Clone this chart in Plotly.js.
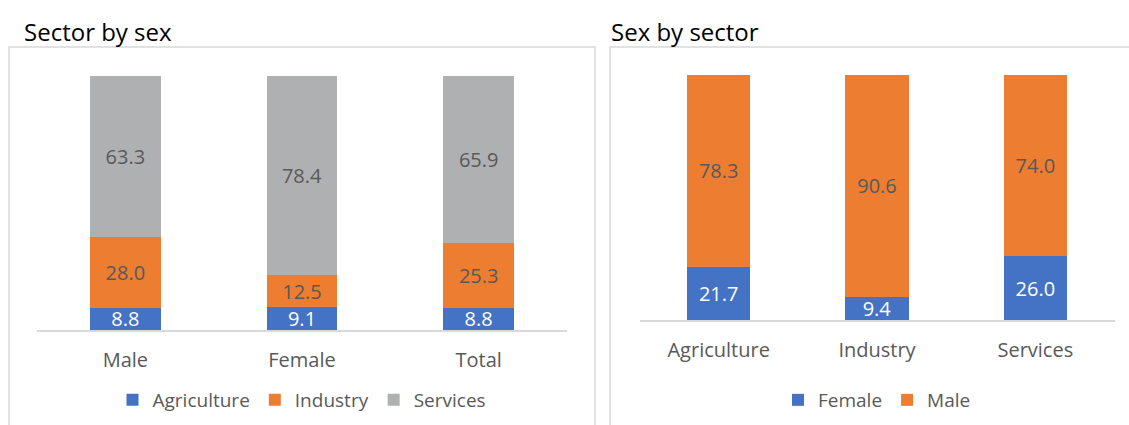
<!DOCTYPE html>
<html>
<head>
<meta charset="utf-8">
<script src="https://cdn.plot.ly/plotly-3.0.1.min.js"></script>
<style>html,body{margin:0;padding:0;background:#fff;}#chart{width:1129px;height:425px;}</style>
</head>
<body>
<div id="chart"></div>
<script>
// ---- Data ----
const sexCategories = ["Male", "Female", "Total"];
const agriculture = [8.8, 9.1, 8.8];
const industry = [28.0, 12.5, 25.3];
const services = [63.3, 78.4, 65.9];

const sectorCategories = ["Agriculture", "Industry", "Services"];
const female = [21.7, 9.4, 26.0];
const male = [78.3, 90.6, 74.0];

const titleLeft = "Sector by sex";
const titleRight = "Sex by sector";

// ---- Styling ----
const W = 1129, H = 425;
const FONT = "Open Sans";
const FS = 20;
const BLUE = "#4472C4", ORANGE = "#ED7D31", GREY = "#AFB0B2";
const LABEL = "#595959";
const px = v => v / W;
const py = v => 1 - v / H;

function barTrace(name, x, y, color, textColor, xa, ya, legend) {
  return {
    type: "bar", name: name, x: x, y: y,
    xaxis: xa, yaxis: ya, legend: legend,
    marker: {color: color, line: {width: 0}},
    text: y.map(v => v.toFixed(1)),
    textposition: "inside", insidetextanchor: "middle",
    constraintext: "none",
    textfont: {family: FONT, size: FS, color: textColor},
    hoverinfo: "skip"
  };
}

const data = [
  barTrace("Agriculture", sexCategories, agriculture, BLUE, "#FFFFFF", "x", "y", "legend"),
  barTrace("Industry", sexCategories, industry, ORANGE, LABEL, "x", "y", "legend"),
  barTrace("Services", sexCategories, services, GREY, LABEL, "x", "y", "legend"),
  barTrace("Female", sectorCategories, female, BLUE, "#FFFFFF", "x2", "y2", "legend2"),
  barTrace("Male", sectorCategories, male, ORANGE, LABEL, "x2", "y2", "legend2")
];

const xCommon = {
  type: "category", showline: true, linecolor: "#D9D9D9", linewidth: 1.5,
  ticks: "", showgrid: false, zeroline: false, fixedrange: true,
  tickfont: {family: FONT, size: FS, color: LABEL}
};
const yCommon = {
  range: [0, 100], visible: false, showgrid: false, zeroline: false, fixedrange: true
};

const legendCommon = {
  orientation: "h", xanchor: "center", yanchor: "middle",
  font: {family: FONT, size: 19, color: LABEL},
  bgcolor: "rgba(0,0,0,0)", itemclick: false, itemdoubleclick: false,
  traceorder: "normal", itemwidth: 30
};

const layout = {
  width: W, height: H,
  margin: {l: 0, r: 0, t: 0, b: 0},
  paper_bgcolor: "#FFFFFF", plot_bgcolor: "rgba(0,0,0,0)",
  barmode: "stack", bargap: 0.6,
  showlegend: true,
  uniformtext: {mode: "show", minsize: FS},
  xaxis: Object.assign({}, xCommon, {domain: [px(37), px(567)], anchor: "y", ticklabelstandoff: 11}),
  yaxis: Object.assign({}, yCommon, {domain: [1 - 330 / H, 1 - 76 / H], anchor: "x"}),
  xaxis2: Object.assign({}, xCommon, {domain: [px(639.5), px(1114.5)], anchor: "y2", ticklabelstandoff: 11}),
  yaxis2: Object.assign({}, yCommon, {domain: [1 - 320.3 / H, 1 - 74.7 / H], anchor: "x2"}),
  legend: Object.assign({}, legendCommon, {x: px(302), y: py(400)}),
  legend2: Object.assign({}, legendCommon, {x: px(877), y: py(400)}),
  shapes: [
    {type: "rect", xref: "paper", yref: "paper", x0: px(9), x1: px(595), y0: py(47), y1: -0.05,
     line: {color: "#D9D9D9", width: 1.5}, fillcolor: "rgba(0,0,0,0)", layer: "below"},
    {type: "rect", xref: "paper", yref: "paper", x0: px(610), x1: 1.05, y0: py(47), y1: -0.05,
     line: {color: "#D9D9D9", width: 1.5}, fillcolor: "rgba(0,0,0,0)", layer: "below"}
  ],
  annotations: [
    {text: titleLeft, xref: "paper", yref: "paper", x: px(22), y: py(31), xanchor: "left", yanchor: "middle",
     showarrow: false, font: {family: FONT, size: 24, color: "#000000"}},
    {text: titleRight, xref: "paper", yref: "paper", x: px(609), y: py(31), xanchor: "left", yanchor: "middle",
     showarrow: false, font: {family: FONT, size: 24, color: "#000000"}}
  ]
};

Plotly.newPlot("chart", data, layout, {displayModeBar: false, staticPlot: true});
</script>
</body>
</html>
